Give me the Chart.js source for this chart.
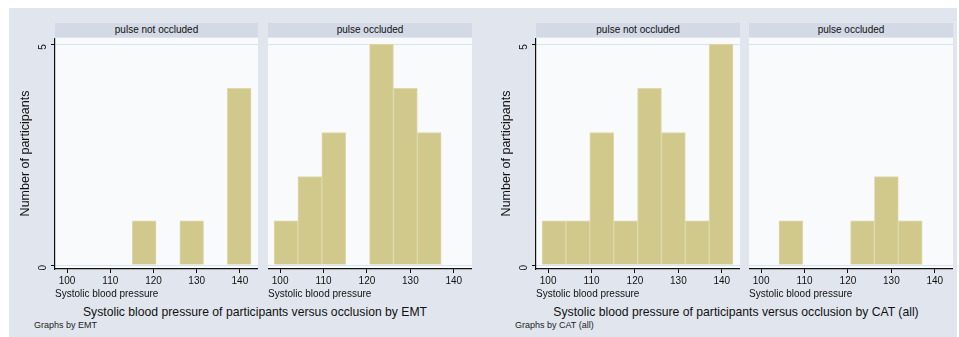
<!DOCTYPE html>
<html>
<head>
<meta charset="utf-8">
<script src="https://cdn.jsdelivr.net/npm/chart.js@4.4.0/dist/chart.umd.min.js"></script>
<style>
  body { margin:0; background:#fff; width:959px; height:337px; overflow:hidden; position:relative;
         font-family:"Liberation Sans", Arial, sans-serif; }
  #bg { position:absolute; left:9px; top:8px; width:948px; height:329px; background:#e1e6ee; }
  .strip { position:absolute; top:23px; height:14px; line-height:14px; background:#d3d9e5;
           text-align:center; font-size:10px; color:#111; }
  .box { position:absolute; top:38px; height:265px; }
  .title { position:absolute; top:305px; font-size:12.2px; color:#111; white-space:nowrap; transform:translateX(-50%); }
  .note { position:absolute; top:320px; font-size:9px; color:#222; white-space:nowrap; }
</style>
</head>
<body>
<div id="bg"></div>

<div class="strip" style="left:55px;width:203px">pulse not occluded</div>
<div class="strip" style="left:268px;width:204px">pulse occluded</div>
<div class="strip" style="left:536px;width:204px">pulse not occluded</div>
<div class="strip" style="left:749px;width:204px">pulse occluded</div>

<div class="box" style="left:10px;width:248px"><canvas id="emtA"></canvas></div>
<div class="box" style="left:268px;width:204px"><canvas id="emtB"></canvas></div>
<div class="box" style="left:491px;width:249px"><canvas id="catA"></canvas></div>
<div class="box" style="left:749px;width:204px"><canvas id="catB"></canvas></div>

<div class="title" style="left:255px">Systolic blood pressure of participants versus occlusion by EMT</div>
<div class="note" style="left:34px">Graphs by EMT</div>
<div class="title" style="left:736px">Systolic blood pressure of participants versus occlusion by CAT (all)</div>
<div class="note" style="left:515px">Graphs by CAT (all)</div>

<script>
// histogram bins (centres of the 5.5 mmHg bins) and counts per panel
var binCentres = [101.35, 106.85, 112.35, 117.85, 123.35, 128.85, 134.35, 139.85];
var emtNotOccluded = [0, 0, 0, 1, 0, 1, 0, 4];
var emtOccluded = [1, 2, 3, 0, 5, 4, 3, 0];
var catNotOccluded = [1, 1, 3, 1, 4, 3, 1, 5];
var catOccluded = [0, 1, 0, 0, 1, 2, 1, 0];
var xTicks = [100, 110, 120, 130, 140];
var yTicks = [0, 5];

Chart.defaults.font.family = '"Liberation Sans", Arial, sans-serif';
Chart.defaults.color = '#111';

// white plot region behind the bars
var plotRegion = {
    id: 'plotRegion',
    beforeDraw: function(chart) {
        var a = chart.chartArea, ctx = chart.ctx;
        ctx.save();
        ctx.fillStyle = '#f9fafc';
        ctx.fillRect(a.left, a.top, a.right - a.left, a.bottom - a.top);
        ctx.restore();
    }
};

function makePanel(id, counts, showY) {
    // empty bins stay in the data (null) so the bar width is one bin
    var pts = binCentres.map(function(c, i) { return {x: c, y: counts[i] || null}; });
    return new Chart(document.getElementById(id), {
        type: 'bar',
        data: {
            datasets: [{
                data: pts,
                backgroundColor: 'rgb(209,200,140)',
                borderColor: 'rgb(222,216,170)',
                borderWidth: 1,
                barPercentage: 1,
                categoryPercentage: 1
            }]
        },
        options: {
            responsive: true,
            maintainAspectRatio: false,
            animation: false,
            layout: { padding: 0 },
            plugins: { legend: { display: false }, tooltip: { enabled: false } },
            scales: {
                x: {
                    type: 'linear',
                    offset: false,
                    min: 97.2,
                    max: 144.2,
                    afterBuildTicks: function(s) { s.ticks = xTicks.map(function(v) { return {value: v}; }); },
                    afterFit: function(s) { s.height = 34; s.paddingLeft = 0; s.paddingRight = 0; },
                    grid: { drawOnChartArea: false, offset: false, tickLength: 4, tickColor: '#111' },
                    border: { color: '#111', width: 1.2 },
                    ticks: { font: { size: 10 }, padding: 2, maxRotation: 0 },
                    title: { display: true, text: 'Systolic blood pressure', align: 'start',
                             font: { size: 10 }, padding: { top: 0, bottom: 3 } }
                },
                y: {
                    display: true,
                    min: -0.09,
                    max: 5.14,
                    afterBuildTicks: function(s) { s.ticks = yTicks.map(function(v) { return {value: v}; }); },
                    afterFit: function(s) { s.width = showY ? 45 : 0; s.paddingTop = 0; s.paddingBottom = 0; },
                    grid: { color: '#d4e4f0', tickLength: showY ? 4 : 0, tickColor: '#111' },
                    border: { display: showY, color: '#111', width: 1.2 },
                    ticks: { display: showY, font: { size: 10 }, padding: 8, minRotation: 90, maxRotation: 90 },
                    title: { display: showY, text: 'Number of participants', font: { size: 12.5 },
                             padding: { top: 8, bottom: 0 } }
                }
            }
        },
        plugins: [plotRegion]
    });
}

makePanel('emtA', emtNotOccluded, true);
makePanel('emtB', emtOccluded, false);
makePanel('catA', catNotOccluded, true);
makePanel('catB', catOccluded, false);
</script>
</body>
</html>
